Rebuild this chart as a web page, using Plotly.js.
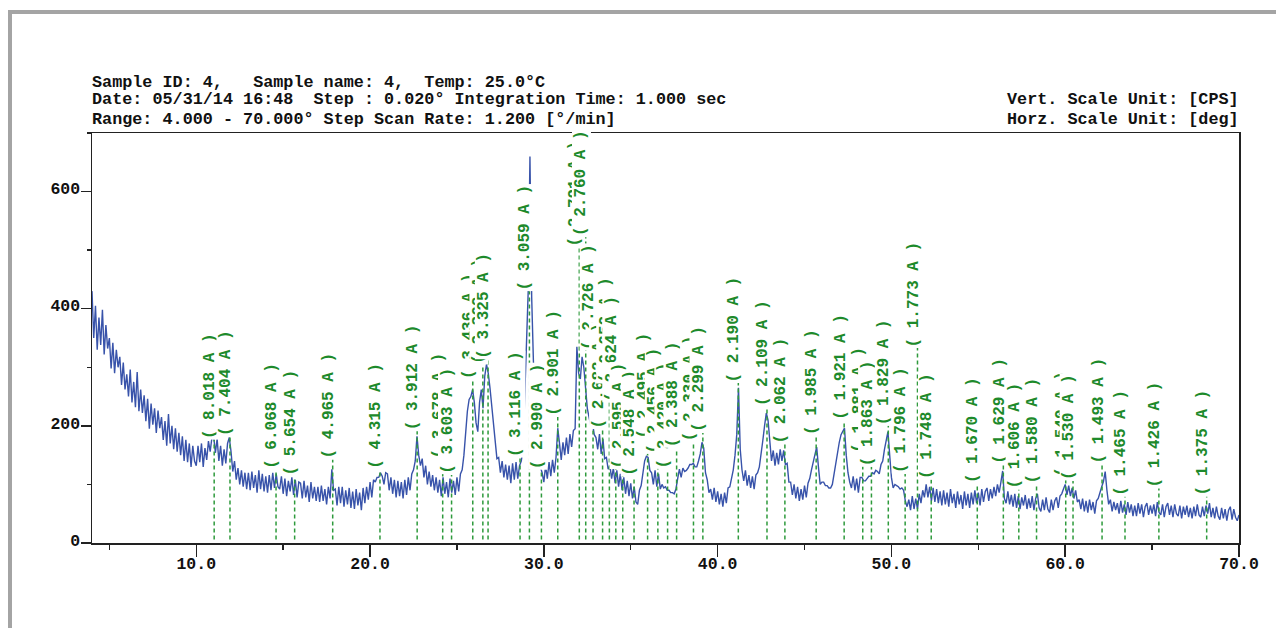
<!DOCTYPE html>
<html>
<head>
<meta charset="utf-8">
<script src="https://cdn.plot.ly/plotly-3.0.1.min.js"></script>
<style>
html,body{margin:0;padding:0;background:#fff;}
#wrap{position:relative;width:1276px;height:628px;overflow:hidden;}
#chart{position:absolute;left:0;top:0;width:1276px;height:628px;}
#frame{position:absolute;left:8px;top:10px;width:1268px;height:618px;border-top:4px solid #a4a4a4;border-left:4px solid #a4a4a4;pointer-events:none;}
</style>
</head>
<body>
<div id="wrap"><div id="chart"></div><div id="frame"></div></div>
<script>
// Scan grid (instrument step used for this sampled trace)
const scanStart = 4.0;
const scanStep = 0.1;
// Intensity [CPS], 4.0 .. 70.0 deg
const intensity = [
430,350,405,330,385,338,398,322,372,332,
350,298,342,290,330,300,318,270,308,262,
288,250,296,240,275,232,292,225,262,222,
252,208,246,195,238,202,230,188,226,196,
215,176,208,166,220,170,200,160,196,156,
188,150,182,140,176,138,170,130,166,140,
132,166,138,170,130,162,142,174,156,180,
182,154,178,140,166,132,160,136,170,180,
156,122,140,108,128,100,124,96,120,92,
120,90,122,94,116,86,124,92,118,88,
114,86,116,90,120,94,118,96,92,114,
84,110,80,106,88,112,82,108,78,104,
102,76,106,78,98,70,104,76,96,72,
96,70,98,72,92,66,96,76,126,90,
92,64,96,68,96,62,90,66,94,60,
88,58,92,64,86,56,94,68,96,74,
104,78,108,104,112,112,120,114,100,120,
118,90,112,84,108,78,106,80,104,76,
108,82,112,90,118,125,140,182,150,132,
144,112,132,100,122,96,116,90,112,86,
108,80,112,84,104,78,110,86,106,82,
112,88,118,125,150,190,225,245,250,262,
240,205,190,240,262,230,285,305,290,265,
236,196,176,144,146,120,140,112,134,108,
132,102,136,108,138,110,132,140,160,240,
330,430,660,420,310,240,180,150,130,120,
104,132,110,138,114,142,120,146,196,170,
142,172,150,180,152,186,164,192,195,335,
290,280,318,300,260,230,215,200,205,185,
180,160,186,152,178,144,146,126,132,110,
128,102,124,96,118,90,112,84,106,80,
102,76,96,70,66,90,98,118,140,148,
146,124,120,100,124,96,118,92,100,94,
96,90,90,86,86,84,92,110,126,112,
128,122,124,128,134,134,136,130,130,140,
152,172,162,120,108,86,92,74,94,70,
88,66,84,62,86,68,94,96,112,125,
150,185,265,160,125,106,124,98,116,94,
114,92,116,120,130,150,175,200,222,210,
166,140,158,132,154,134,160,140,158,134,
136,104,104,82,100,76,96,72,92,74,
98,78,102,110,125,140,150,164,130,100,
104,104,98,98,94,94,100,118,135,160,
172,185,192,196,150,120,104,94,114,90,
110,86,112,112,106,106,110,114,114,120,
118,124,122,118,134,140,160,175,190,150,
112,94,100,98,96,92,94,90,72,62,
74,56,80,58,76,58,84,68,90,78,
100,78,96,72,94,70,92,68,88,64,
90,66,86,62,92,68,84,60,88,66,
82,58,88,64,84,60,86,66,90,68,
86,64,92,70,88,94,72,92,76,96,
80,100,86,104,123,76,68,88,66,82,
62,84,60,80,58,78,64,82,58,76,
60,80,56,76,84,60,54,74,56,78,
58,52,74,56,72,78,60,80,84,92,
100,82,98,80,94,76,90,70,74,58,
76,54,72,52,74,56,70,50,72,76,
88,96,105,122,90,66,74,54,70,56,
68,50,72,52,66,48,70,52,66,46,
64,46,68,50,66,44,62,68,48,64,
50,66,46,70,52,48,66,44,62,68,
48,64,44,66,50,46,64,42,62,48,
64,44,60,42,62,46,66,48,44,62,
46,64,50,68,44,60,42,62,46,40,
60,42,58,38,56,62,40,58,44,38,
48
];
// Peak list: d-spacing labels, 2-theta positions, label base height (CPS)
const dLabels = ["8.018","7.404","6.068","5.654","4.965","4.315","3.912","3.678","3.603","3.436","3.362","3.325","3.116","3.059","2.990","2.901","2.791","2.760","2.726","2.682","2.652","2.624","2.595","2.548","2.495","2.456","2.420","2.388","2.330","2.299","2.190","2.109","2.062","1.985","1.921","1.881","1.863","1.829","1.796","1.773","1.748","1.670","1.629","1.606","1.580","1.540","1.530","1.493","1.465","1.426","1.375"];
const peakPos = [11.03,11.94,14.59,15.66,17.85,20.57,22.71,24.18,24.69,25.91,26.49,26.79,28.63,29.17,29.86,30.80,32.04,32.41,32.83,33.38,33.77,34.14,34.54,35.19,35.97,36.56,37.12,37.64,38.61,39.15,41.19,42.84,43.87,45.67,47.28,48.35,48.85,49.82,50.79,51.50,52.29,54.94,56.44,57.33,58.35,60.03,60.45,62.12,63.44,65.39,68.14];
const labelBase = [176,181,125,113,142,125,191,142,116,278,304,313,145,430,125,215,505,522,328,193,272,239,125,113,176,151,125,161,173,188,273,232,168,183,209,152,130,200,118,333,108,101,134,91,99,111,106,134,79,93,79];
// Header texts
const headerLeft = [
  "Sample ID: 4,\u00a0\u00a0\u00a0Sample name: 4,\u00a0\u00a0Temp: 25.0\u00b0C",
  "Date: 05/31/14 16:48\u00a0\u00a0Step : 0.020\u00b0 Integration Time: 1.000 sec",
  "Range: 4.000 - 70.000\u00b0 Step Scan Rate: 1.200 [\u00b0/min]"
];
const headerRight = ["Vert. Scale Unit: [CPS]", "Horz. Scale Unit: [deg]"];
const lineFloor = 6;

const twoTheta = intensity.map((_, i) => +(scanStart + i * scanStep).toFixed(2));

const lx = [], ly = [];
peakPos.forEach((p, i) => { lx.push(p, p, null); ly.push(lineFloor, labelBase[i], null); });

const mono = 'Liberation Mono, DejaVu Sans Mono, monospace';
const green = '#1d8a2b';

const traces = [
  {x: twoTheta, y: intensity, type: 'scatter', mode: 'lines',
   line: {color: '#3853aa', width: 1.4}, hoverinfo: 'skip'},
  {x: lx, y: ly, type: 'scatter', mode: 'lines',
   line: {color: '#2e9a3c', width: 1.5, dash: '4px,3px'}, hoverinfo: 'skip'}
];

const ann = [];
const yShifts = [51, 34, 14];
headerLeft.forEach((t, i) => ann.push({xref: 'paper', yref: 'paper', x: 0, y: 1, xanchor: 'left', yanchor: 'middle',
  yshift: yShifts[i], xshift: -2, text: t, showarrow: false, font: {family: mono, size: 16.8, weight: 'bold', color: '#111'}}));
headerRight.forEach((t, i) => ann.push({xref: 'paper', yref: 'paper', x: 1, y: 1, xanchor: 'right', yanchor: 'middle',
  yshift: yShifts[i + 1], xshift: 2, text: t, showarrow: false, font: {family: mono, size: 16.8, weight: 'bold', color: '#111'}}));
dLabels.forEach((d, i) => ann.push({xref: 'x', yref: 'y', x: peakPos[i], y: labelBase[i], xanchor: 'center', yanchor: 'bottom',
  xshift: -4, textangle: -90, text: '( ' + d + ' A )', showarrow: false, bgcolor: '#ffffff', borderpad: 0,
  font: {family: mono, size: 16, weight: 'bold', color: green}}));

const axisCommon = {showline: true, linecolor: '#222', linewidth: 1.5, mirror: true, showgrid: false, zeroline: false,
  ticks: 'outside', tickcolor: '#222', tickwidth: 1.5,
  tickfont: {family: mono, size: 16.5, weight: 'bold', color: '#111'}};

const layout = {
  width: 1276, height: 628, margin: {l: 92, r: 37, t: 133, b: 85, pad: 0},
  paper_bgcolor: '#ffffff', plot_bgcolor: '#ffffff', showlegend: false,
  xaxis: Object.assign({}, axisCommon, {range: [4, 70], tickmode: 'linear', tick0: 10, dtick: 10, tickformat: '.1f', ticklen: 12,
    ticklabelstandoff: -7,
    minor: {tick0: 10, dtick: 5, ticks: 'outside', ticklen: 5, tickwidth: 1.5, tickcolor: '#222', showgrid: false}}),
  yaxis: Object.assign({}, axisCommon, {range: [0, 700], tickmode: 'linear', tick0: 0, dtick: 200, ticklen: 10,
    ticklabelshift: -3, ticklabelstandoff: -3,
    minor: {tick0: 0, dtick: 100, ticks: 'outside', ticklen: 4, tickwidth: 1.5, tickcolor: '#222', showgrid: false}}),
  annotations: ann
};

Plotly.newPlot('chart', traces, layout, {staticPlot: true, displayModeBar: false});
</script>
</body>
</html>
